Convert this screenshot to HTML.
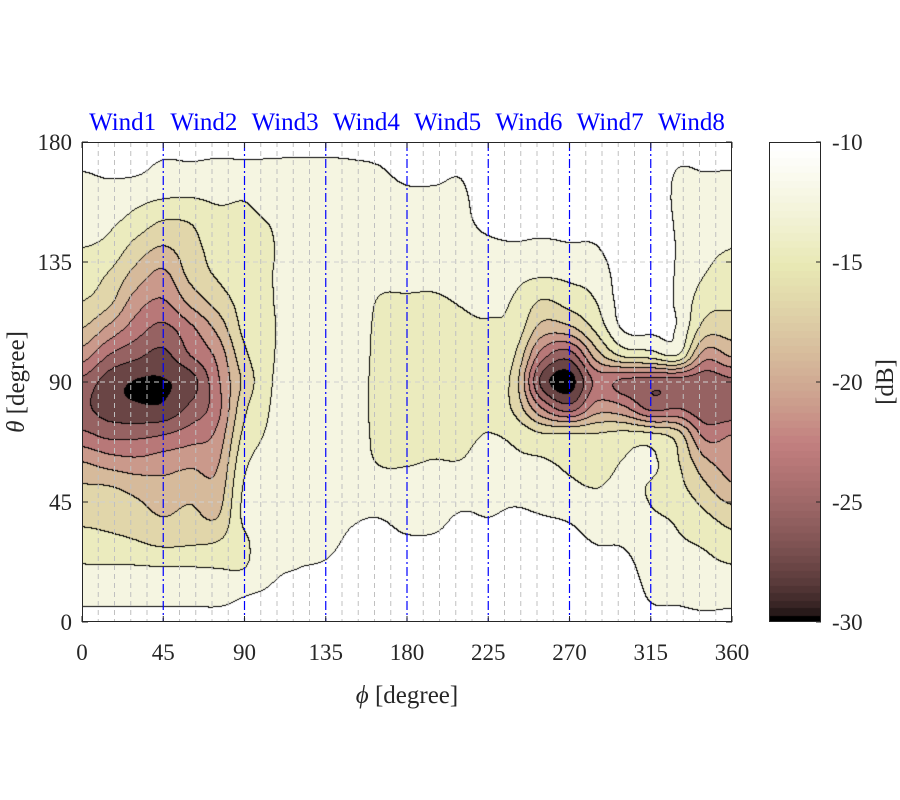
<!DOCTYPE html>
<html><head><meta charset="utf-8">
<style>
html,body{margin:0;padding:0;background:#fff;}
#wrap{position:relative;width:900px;height:800px;overflow:hidden;background:#fff;font-family:"Liberation Serif",serif;}
canvas{position:absolute;}
svg{position:absolute;left:0;top:0;}
</style></head>
<body>
<div id="wrap">
<canvas id="plot" width="650" height="480" style="left:82px;top:142px"></canvas>
<canvas id="cbar" width="52" height="480" style="left:769px;top:142px"></canvas>
<svg id="ov" width="900" height="800"></svg>
</div>
<script>
// ---- data ----
const phiVals = [0,15,30,45,60,75,90,105,120,135,150,165,180,195,210,225,240,255,270,285,300,315,330,345,360];
const thetaVals = [0,10,20,30,40,50,60,70,80,90,100,110,120,130,140,150,160,170,180];
const levels = [-28,-26,-24,-22,-20,-18,-16,-14,-12];
const dbByPhi = [
[-11,-12.8,-13.8,-15.2,-16.6,-17.7,-20,-23.5,-25.5,-24.5,-21,-18,-16,-15,-14,-13.4,-12.7,-11.9,-11],
[-11,-12.8,-13.8,-15.5,-16.8,-17.8,-21,-24.5,-27,-27,-24,-20.5,-17.5,-16.2,-14.6,-13.6,-12.5,-11.7,-11],
[-11,-12.8,-13.8,-15.9,-17.2,-18.6,-21.5,-24.5,-27.6,-28.1,-25.5,-23,-21,-18.8,-16.8,-14.8,-13.2,-11.6,-11],
[-11,-12.9,-13.9,-16.5,-18.1,-19.3,-21,-24,-27.6,-28.1,-26.5,-24.5,-22.2,-20.5,-18.2,-16.1,-13.7,-12.4,-11.3],
[-11,-12.8,-13.9,-16.3,-17.5,-18.8,-20.5,-23,-25.5,-27,-24,-22.5,-19.5,-17.5,-16.8,-15.9,-13.8,-12.3,-11.3],
[-11,-12.9,-14,-16,-18.2,-19.3,-20.3,-21.5,-22.8,-22.5,-21.5,-19.5,-17.2,-15.8,-15.2,-14.6,-13.6,-12.4,-11.5],
[-11,-12.1,-14,-14.3,-13.6,-13.8,-14.5,-15.5,-16.5,-17.5,-16.5,-15.5,-15.2,-14.8,-14.5,-14.3,-13.8,-12.3,-11.6],
[-11,-11.7,-12.4,-12.9,-13.2,-13.3,-13.5,-13.7,-13.9,-14.1,-14.2,-14.2,-14.1,-14.05,-14.1,-13.9,-13.2,-12.3,-11.6],
[-11,-11.3,-12,-12.5,-12.8,-13.2,-13.2,-13.2,-13.2,-13.2,-13.2,-13.2,-13.2,-13.2,-13.2,-13,-12.8,-12.3,-11.6],
[-11,-11.2,-11.8,-12.4,-12.7,-13.1,-13.1,-13.1,-13.1,-13.1,-13.1,-13.1,-13.1,-13.1,-13.1,-12.9,-12.7,-12.3,-11.6],
[-10.5,-10.8,-11.2,-11.7,-12.2,-12.6,-13.2,-13.2,-13.2,-13.2,-13.2,-13.2,-13.2,-13.2,-13,-12.8,-12.6,-12.2,-11.6],
[-10.5,-10.8,-11.1,-11.5,-12.1,-13.2,-14.1,-14.4,-14.5,-14.5,-14.4,-14.3,-14.1,-13.6,-13.2,-12.9,-12.5,-12.05,-11.5],
[-10.5,-10.8,-11.2,-11.8,-12.6,-13.5,-14.1,-14.6,-14.8,-14.9,-14.8,-14.6,-14.2,-13.5,-13,-12.6,-12.2,-11.6,-11],
[-10.5,-10.8,-11.2,-11.8,-12.5,-13.4,-13.95,-14.5,-14.8,-14.9,-14.8,-14.6,-14.2,-13.6,-13.1,-12.7,-12.2,-11.6,-11],
[-10.5,-10.7,-11,-11.5,-11.9,-13,-13.95,-14.4,-14.7,-14.7,-14.5,-14.3,-13.9,-13.3,-12.6,-12.3,-12.2,-11.8,-11],
[-10.5,-10.7,-11,-11.5,-12.05,-12.6,-13.3,-13.95,-14.4,-14.6,-14.5,-14.2,-13.6,-12.9,-12.3,-11.7,-11.3,-11,-10.8],
[-10.5,-10.7,-11,-11.4,-11.8,-12.6,-13.7,-14.4,-16.5,-17,-16,-14.7,-14.2,-13.5,-12.2,-11.6,-11.3,-11,-10.8],
[-10.5,-10.7,-10.9,-11.2,-12,-12.9,-13.8,-15.7,-22,-26.6,-23,-18.8,-16.2,-13.8,-12.4,-11.5,-11.2,-11,-10.8],
[-10.5,-10.7,-10.9,-11.4,-12.3,-13.5,-14.5,-15.6,-25,-28.8,-25,-18.5,-15.2,-13.6,-12.2,-11.5,-11.2,-11,-10.8],
[-10.5,-10.7,-11.2,-12.1,-13,-14,-15.2,-15.8,-21,-23.5,-19,-15.5,-14,-13.2,-12.1,-11.5,-11.2,-11,-10.8],
[-10.5,-10.8,-11.3,-12.2,-12.8,-13.3,-13.9,-15.3,-21.5,-24.5,-15.5,-11.8,-11.2,-11,-10.9,-10.8,-10.8,-10.8,-10.8],
[-11.5,-12.2,-12.8,-13.3,-13.8,-14.2,-13.6,-15.5,-24.5,-25,-15,-11.5,-11,-10.8,-10.8,-10.8,-10.8,-10.8,-10.8],
[-11.3,-12.5,-13.2,-13.8,-14.3,-15.3,-15.8,-17,-24,-25,-14,-12.2,-12.3,-12.2,-12.1,-12.2,-12.3,-12,-11],
[-11.5,-12.9,-13.5,-14.3,-15.7,-17.5,-19.5,-22.5,-25.5,-25.5,-21,-16.8,-15.2,-14,-13.5,-13,-12.6,-11.9,-11.2],
[-11.3,-12.8,-13.8,-15.3,-17,-19.6,-21,-22,-25.5,-24.5,-19.7,-17,-15.6,-14.7,-14,-13.4,-12.7,-11.95,-11.3]
];
const xTicks = [0,45,90,135,180,225,270,315,360];
const yTicks = [0,45,90,135,180];
const cbTicks = [-10,-15,-20,-25,-30];
const windLabels = ["Wind1","Wind2","Wind3","Wind4","Wind5","Wind6","Wind7","Wind8"];
const windLines = [45,90,135,180,225,270,315];

// ---- geometry ----
const PX0=82, PY0=142, PW=650, PH=480;
const phiMax=360, thMax=180, cMin=-30, cMax=-10;
function xOf(phi){return PX0 + phi/phiMax*PW;}
function yOf(th){return PY0 + PH - th/thMax*PH;}

function pink(t){
  t=Math.max(0,Math.min(1,t));
  const hr=Math.min(1,t*8/3), hg=Math.max(0,Math.min(1,(t-3/8)*8/3)), hb=Math.max(0,Math.min(1,(t-0.75)*4));
  return [Math.sqrt((2*t+hr)/3)*255, Math.sqrt((2*t+hg)/3)*255, Math.sqrt((2*t+hb)/3)*255].map(Math.round);
}
function findIdx(arr,v){let i=0;while(i<arr.length-2&&v>arr[i+1])i++;return i;}
function cr(p0,p1,p2,p3,t){
  return p1+0.5*t*(p2-p0+t*(2*p0-5*p1+4*p2-p3+t*(3*(p1-p2)+p3-p0)));
}
function val(i,j){
  i=Math.max(0,Math.min(phiVals.length-1,i));
  j=Math.max(0,Math.min(thetaVals.length-1,j));
  return dbByPhi[i][j];
}
function sample(phi,th){
  const i=findIdx(phiVals,phi), j=findIdx(thetaVals,th);
  const u=(phi-phiVals[i])/(phiVals[i+1]-phiVals[i]), w=(th-thetaVals[j])/(thetaVals[j+1]-thetaVals[j]);
  const r=[];
  for(let dj=-1;dj<=2;dj++){
    r.push(cr(val(i-1,j+dj),val(i,j+dj),val(i+1,j+dj),val(i+2,j+dj),u));
  }
  return cr(r[0],r[1],r[2],r[3],w);
}
function bandOf(v){let k=0;while(k<levels.length&&v>=levels[k])k++;return k;}

// ---- contour fill ----
(function(){
  const cv=document.getElementById('plot'), ctx=cv.getContext('2d');
  const img=ctx.createImageData(PW,PH);
  const nb=levels.length;
  const bands=new Int16Array(PW*PH);
  for(let y=0;y<PH;y++)for(let x=0;x<PW;x++){
    const phi=(x+0.5)/PW*phiMax, th=thMax-(y+0.5)/PH*thMax;
    bands[y*PW+x]=bandOf(sample(phi,th));
  }
  const cols=[];for(let k=0;k<=nb;k++)cols.push(pink(k/nb));
  for(let y=0;y<PH;y++)for(let x=0;x<PW;x++){
    const b=bands[y*PW+x];
    let c=cols[b];
    const edge=(x<PW-1&&bands[y*PW+x+1]!==b)||(y<PH-1&&bands[(y+1)*PW+x]!==b);
    if(edge)c=[0,0,0];
    const o=(y*PW+x)*4;img.data[o]=c[0];img.data[o+1]=c[1];img.data[o+2]=c[2];img.data[o+3]=255;
  }
  ctx.putImageData(img,0,0);
  const cb=document.getElementById('cbar').getContext('2d');
  const steps=64;
  for(let s=0;s<steps;s++){
    const c=pink(s/(steps-1));
    cb.fillStyle='rgb('+c.join(',')+')';
    const y0=PH-(s+1)*PH/steps;
    cb.fillRect(0,Math.floor(y0),52,Math.ceil(PH/steps)+1);
  }
})();

// ---- overlay ----
(function(){
  const svg=document.getElementById('ov'), NS='http://www.w3.org/2000/svg';
  function mk(tag,attrs,parent){const e=document.createElementNS(NS,tag);for(const k in attrs)e.setAttribute(k,attrs[k]);(parent||svg).appendChild(e);return e;}
  const g=mk('g',{});
  
  
  for(let p=9;p<360;p+=9){
    if(p%45===0)continue;
    const l=mk('line',{x1:xOf(p),x2:xOf(p),y1:PY0,y2:PY0+PH,stroke:'#c0c0c0','stroke-width':1,'stroke-dasharray':'5,4'},g);
    
    
  }
  yTicks.forEach(t=>{ if(t===0||t===180)return;
    const l=mk('line',{x1:PX0,x2:PX0+PW,y1:yOf(t),y2:yOf(t),stroke:'#d0d0d0','stroke-width':1,'stroke-dasharray':'5,4'},g);
    
    
  });
  windLines.forEach(p=>{
    const l=mk('line',{x1:xOf(p),x2:xOf(p),y1:PY0,y2:PY0+PH,stroke:'#0000ff','stroke-width':1.2,'stroke-dasharray':'9,3,2,3'});
    
    
  });
  const box=mk('rect',{x:PX0+0.5,y:PY0+0.5,width:PW-1,height:PH-1,fill:'none',stroke:'#262626','stroke-width':1});
  
  
  xTicks.forEach(t=>{
    const x=xOf(t);
    mk('line',{x1:x,x2:x,y1:PY0+PH,y2:PY0+PH-6,stroke:'#262626'});
    mk('line',{x1:x,x2:x,y1:PY0,y2:PY0+6,stroke:'#262626'});
    const tx=mk('text',{x:x,y:660,'text-anchor':'middle','font-size':23,fill:'#262626'});
    tx.textContent=t;
    
    
  });
  yTicks.forEach(t=>{
    const y=yOf(t);
    mk('line',{x1:PX0,x2:PX0+6,y1:y,y2:y,stroke:'#262626'});
    mk('line',{x1:PX0+PW,x2:PX0+PW-6,y1:y,y2:y,stroke:'#262626'});
    const tx=mk('text',{x:72,y:y+8,'text-anchor':'end','font-size':23,fill:'#262626'});
    tx.textContent=t;
    
    
  });
  windLabels.forEach((w,i)=>{
    const tx=mk('text',{x:xOf(22.5+45*i),y:130,'text-anchor':'middle','font-size':25,fill:'#0000ff'});
    tx.textContent=w;
    
    
  });
  const cbx=769, cbw=52;
  const cbr=mk('rect',{x:cbx+0.5,y:PY0+0.5,width:cbw-1,height:PH-1,fill:'none',stroke:'#262626'});
  
  
  cbTicks.forEach(v=>{
    const y=PY0+(cMax-v)/(cMax-cMin)*PH;
    mk('line',{x1:cbx+cbw,x2:cbx+cbw-5,y1:y,y2:y,stroke:'#262626'});
    const tx=mk('text',{x:832,y:y+8,'text-anchor':'start','font-size':23,fill:'#262626'});
    tx.textContent=v;
    
    
  });
})();
</script>
<svg width="900" height="800" style="position:absolute;left:0;top:0;pointer-events:none">
  <text x="407" y="703" text-anchor="middle" font-size="25" fill="#262626" font-family="Liberation Serif, serif"><tspan font-style="italic">ϕ</tspan> [degree]</text>
  <text transform="translate(24,382) rotate(-90)" text-anchor="middle" font-size="25" fill="#262626" font-family="Liberation Serif, serif"><tspan font-style="italic">θ</tspan> [degree]</text>
  <text transform="translate(893,382) rotate(-90)" text-anchor="middle" font-size="25" fill="#262626" font-family="Liberation Serif, serif">[dB]</text>
</svg>
</body></html>
